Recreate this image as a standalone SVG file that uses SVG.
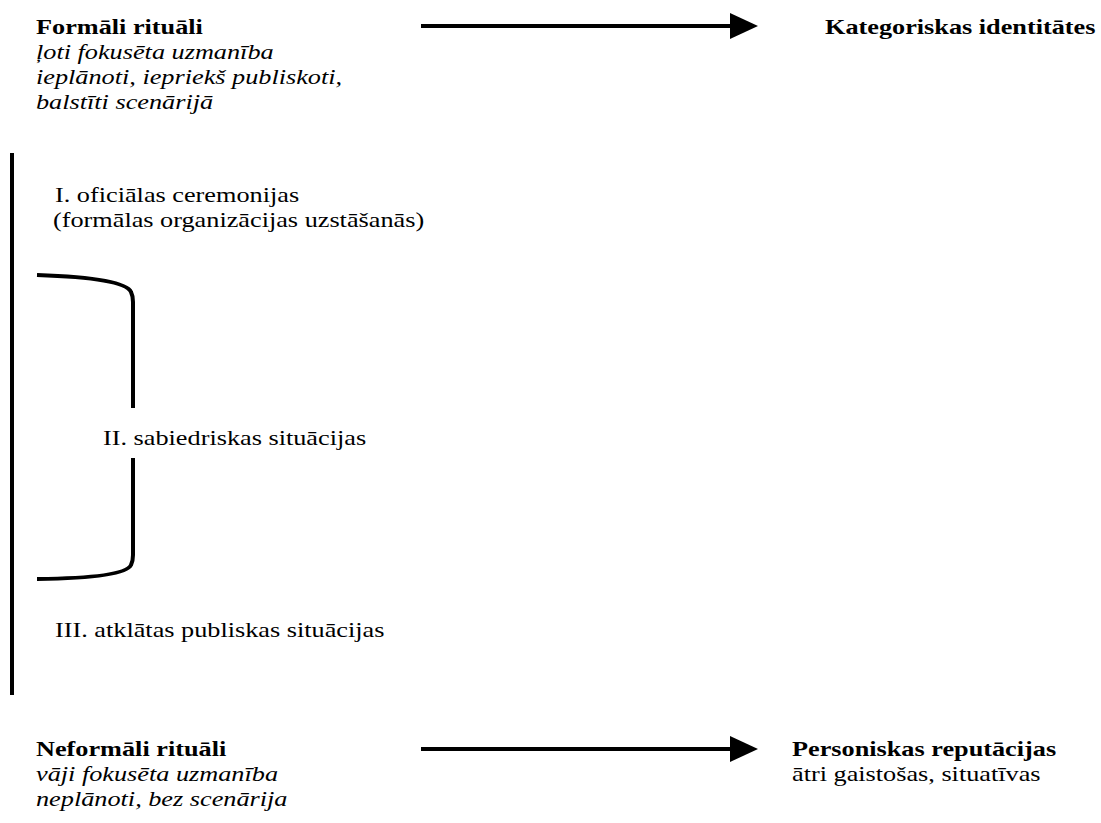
<svg xmlns="http://www.w3.org/2000/svg" width="1101" height="823" viewBox="0 0 1101 823">
<defs>
<style>
text{font-family:"Liberation Serif","Times New Roman",serif;font-size:21px;fill:#000}
.b{font-weight:bold}
.i{font-style:italic}
.ln{stroke:#000;fill:none;stroke-width:4}
</style>
<marker id="ah" markerWidth="7" markerHeight="7" refX="0" refY="3.25" orient="auto" markerUnits="strokeWidth" viewBox="0 0 7 6.5">
<path d="M0,0 L7,3.25 L0,6.5 Z" fill="#000"/>
</marker>
</defs>
<rect width="1101" height="823" fill="#fff"/>
<g id="formal" transform="scale(1.25,1)">
<text x="28.8" y="34" class="b">Formāli rituāli</text>
<text x="28.8" y="59" class="i">ļoti fokusēta uzmanība</text>
<text x="28.8" y="84" class="i">ieplānoti, iepriekš publiskoti,</text>
<text x="28.8" y="109" class="i">balstīti scenārijā</text>
</g>
<g id="categorical" transform="scale(1.25,1)">
<text x="660" y="34" class="b">Kategoriskas identitātes</text>
</g>
<g id="level1" transform="scale(1.25,1)">
<text x="44" y="202">I. oficiālas ceremonijas</text>
<text x="42.4" y="227">(formālas organizācijas uzstāšanās)</text>
</g>
<g id="level2" transform="scale(1.25,1)">
<text x="82.4" y="445">II. sabiedriskas situācijas</text>
</g>
<g id="level3" transform="scale(1.25,1)">
<text x="44" y="637">III. atklātas publiskas situācijas</text>
</g>
<g id="informal" transform="scale(1.25,1)">
<text x="28.8" y="756" class="b">Neformāli rituāli</text>
<text x="28.8" y="781" class="i">vāji fokusēta uzmanība</text>
<text x="28.8" y="806" class="i">neplānoti, bez scenārija</text>
</g>
<g id="personal" transform="scale(1.25,1)">
<text x="633.6" y="756" class="b">Personiskas reputācijas</text>
<text x="633.6" y="781">ātri gaistošas, situatīvas</text>
</g>
<g id="connectors">
<line x1="12" y1="153" x2="12" y2="695" class="ln"/>
<path d="M37,275 Q125,278 131,292 Q133,296 133,302 L133,408" class="ln"/>
<path d="M133,458 L133,555 Q133,561 131,565 Q125,578 37,579" class="ln"/>
<line x1="421" y1="26" x2="730" y2="26" class="ln" marker-end="url(#ah)"/>
<line x1="421" y1="749" x2="730" y2="749" class="ln" marker-end="url(#ah)"/>
</g>
</svg>
